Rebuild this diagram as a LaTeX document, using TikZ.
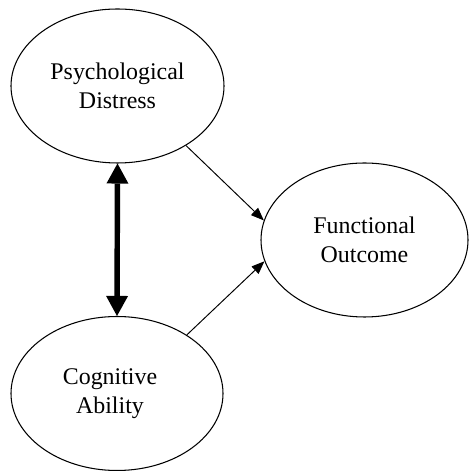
\documentclass[tikz,border=0pt]{standalone}
\usepackage{fontspec}
\setmainfont{Liberation Serif}
\usetikzlibrary{shapes.geometric,arrows.meta}

\begin{document}
\begin{tikzpicture}[
  construct/.style={draw, line width=0.6pt, ellipse, inner sep=0pt, minimum height=3.08cm, align=center, font=\fontsize{13.6}{16.5}\selectfont},
  effect/.style={line width=0.55pt, -{Triangle[length=0.26cm,width=0.2cm]}},
  corr/.style={line width=3.1pt, {Triangle[length=0.4cm,width=0.44cm,line width=0pt]}-{Triangle[length=0.4cm,width=0.44cm,line width=0pt]}}
]
\useasboundingbox (0,0) rectangle (9.36,9.42);
\node[construct, minimum width=4.26cm] (distress) at (2.35,7.70) {Psychological\\Distress};
\node[construct, minimum width=4.14cm] (outcome) at (7.29,4.62) {Functional\\Outcome};
\node[construct, minimum width=4.24cm] (ability) at (2.34,1.55) {Cognitive\hspace*{0.28cm}\\Ability\hspace*{0.28cm}};
\draw[corr] (distress.south) -- (ability.north);
\draw[effect] (distress.-41) -- (outcome.169);
\draw[effect] (ability.40) -- (outcome.192);
\end{tikzpicture}
\end{document}
